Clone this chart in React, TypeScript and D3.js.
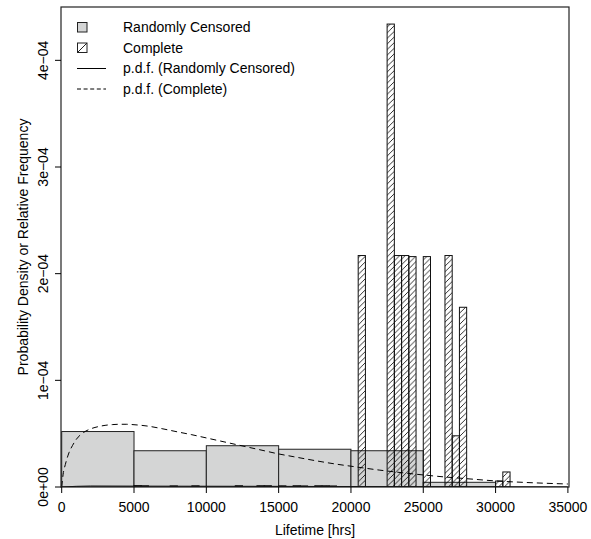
import React from "react";
import * as d3 from "d3";

// Randomly censored histogram (bin starts, width 5000)
const censStarts = [0, 5000, 10000, 15000, 20000, 25000];
const censDensity = [5.2e-5, 3.4e-5, 3.87e-5, 3.54e-5, 3.4e-5, 4.4e-6];
const censWidth = 5000;

// Complete histogram (bin starts, width 500)
const compStarts = [
  5000, 5500, 7500, 9000, 12000, 13500, 14000, 15000, 16000, 16500, 17500, 18000, 18500,
  20500, 22500, 23000, 23500, 24000, 25000, 26500, 27000, 27500, 30000, 30500,
];
const compDensity = [
  1.3e-6, 1.1e-6, 1.0e-6, 1.1e-6, 1.2e-6, 1.2e-6, 1.2e-6, 1.1e-6, 1.2e-6, 1.0e-6, 1.2e-6, 1.2e-6, 1.0e-6,
  2.17e-4, 4.34e-4, 2.17e-4, 2.17e-4, 2.16e-4, 2.16e-4, 2.17e-4, 4.8e-5, 1.685e-4, 5.6e-6, 1.41e-5,
];
const compWidth = 500;

// p.d.f. (Complete) - dashed
const pdfCompX = [0, 100, 250, 500, 750, 1000, 1500, 2000, 2500, 3000, 3500, 4000, 4500, 5000, 6000, 7000, 8000, 9000, 10000, 11000, 12000, 13000, 14000, 15000, 16000, 17000, 18000, 19000, 20000, 22000, 24000, 25000, 26000, 28000, 30000, 32000, 35000];
const pdfCompY = [0, 1.2e-5, 2.1e-5, 3.2e-5, 3.9e-5, 4.45e-5, 5.1e-5, 5.45e-5, 5.65e-5, 5.78e-5, 5.85e-5, 5.88e-5, 5.88e-5, 5.84e-5, 5.7e-5, 5.45e-5, 5.17e-5, 4.9e-5, 4.6e-5, 4.3e-5, 4.0e-5, 3.7e-5, 3.4e-5, 3.1e-5, 2.85e-5, 2.6e-5, 2.36e-5, 2.14e-5, 1.95e-5, 1.58e-5, 1.27e-5, 1.13e-5, 1.0e-5, 7.8e-6, 5.7e-6, 4.3e-6, 2.8e-6];

// p.d.f. (Randomly Censored) - solid, near zero
const pdfCensX = [0, 2000, 5000, 10000, 15000, 20000, 25000, 30000, 35000];
const pdfCensY = [0, 9e-7, 8e-7, 7e-7, 6e-7, 4e-7, 3e-7, 2e-7, 1e-7];

const xTicks = [0, 5000, 10000, 15000, 20000, 25000, 30000, 35000];
const yTicks = [0, 1e-4, 2e-4, 3e-4, 4e-4];
const yTickLabels = ["0e+00", "1e\u221204", "2e\u221204", "3e\u221204", "4e\u221204"];
const legendLabels = ["Randomly Censored", "Complete", "p.d.f. (Randomly Censored)", "p.d.f. (Complete)"];

const FONT = "'Liberation Sans', Arial, Helvetica, sans-serif";

export default function App() {
  const left = 61, right = 569, top = 7, bottom = 487;
  const x = d3.scaleLinear().domain([0, 35000]).range([61.7, 567.9]);
  const y = d3.scaleLinear().domain([0, 4.5e-4]).range([bottom, top]);
  const line = d3.line<[number, number]>().x((d) => x(d[0])).y((d) => y(d[1])).curve(d3.curveMonotoneX);
  const dashedData = pdfCompX.map((v, i) => [v, pdfCompY[i]] as [number, number]);
  const solidData = pdfCensX.map((v, i) => [v, pdfCensY[i]] as [number, number]);

  const legY0 = 32, legStep = 20.5;

  return (
    <svg width={591} height={539} style={{ position: "absolute", left: 0, top: 0, background: "#fff" }} fontFamily={FONT}>
      <defs>
        <pattern id="hatch" patternUnits="userSpaceOnUse" width={5.6} height={5.6}>
          <line x1={-1} y1={6.6} x2={6.6} y2={-1} stroke="#000" strokeWidth={0.8} />
        </pattern>
        <clipPath id="plotclip">
          <rect x={left} y={top} width={right - left} height={bottom - top} />
        </clipPath>
      </defs>
      <rect x={0} y={0} width={591} height={539} fill="#fff" />
      <g clipPath="url(#plotclip)">
        {censStarts.map((s, i) => (
          <rect key={"c" + i} x={x(s)} y={y(censDensity[i])} width={x(s + censWidth) - x(s)} height={y(0) - y(censDensity[i])}
            fill="#d4d5d5" stroke="#222" strokeWidth={1} />
        ))}
        {compStarts.map((s, i) => (
          <rect key={"h" + i} x={x(s)} y={y(compDensity[i])} width={x(s + compWidth) - x(s)} height={y(0) - y(compDensity[i])}
            fill="url(#hatch)" stroke="#111" strokeWidth={1} />
        ))}
        <path d={line(solidData) || ""} fill="none" stroke="#000" strokeWidth={1} />
        <path d={line(dashedData) || ""} fill="none" stroke="#000" strokeWidth={1} strokeDasharray="6,4" />
      </g>
      <rect x={left} y={top} width={right - left} height={bottom - top} fill="none" stroke="#222" strokeWidth={1.2} />
      {xTicks.map((t) => (
        <g key={"xt" + t}>
          <line x1={x(t)} x2={x(t)} y1={bottom} y2={bottom + 6} stroke="#000" />
          <text x={x(t)} y={511.5} textAnchor="middle" fontSize={14}>{t}</text>
        </g>
      ))}
      {yTicks.map((t, i) => (
        <g key={"yt" + i}>
          <line x1={left - 6} x2={left} y1={y(t)} y2={y(t)} stroke="#000" />
          <text transform={`translate(48,${y(t)}) rotate(-90)`} textAnchor="middle" fontSize={14}>{yTickLabels[i]}</text>
        </g>
      ))}
      <text x={(left + right) / 2} y={535} textAnchor="middle" fontSize={14}>Lifetime [hrs]</text>
      <text transform={`translate(28,${(top + bottom) / 2}) rotate(-90)`} textAnchor="middle" fontSize={14}>
        Probability Density or Relative Frequency
      </text>
      {/* legend */}
      <rect x={77.5} y={legY0 - 9.5} width={9.5} height={9.5} fill="#d4d5d5" stroke="#222" />
      <rect x={77.5} y={legY0 + legStep - 9.5} width={9.5} height={9.5} fill="none" stroke="#222" />
      <line x1={77.5} y1={legY0 + legStep} x2={87} y2={legY0 + legStep - 9.5} stroke="#222" />
      <line x1={77} x2={106} y1={legY0 + 2 * legStep - 4.5} y2={legY0 + 2 * legStep - 4.5} stroke="#000" />
      <line x1={77} x2={106} y1={legY0 + 3 * legStep - 4.5} y2={legY0 + 3 * legStep - 4.5} stroke="#000" strokeDasharray="4,2.6" />
      {legendLabels.map((l, i) => (
        <text key={l} x={123} y={legY0 + i * legStep} fontSize={14}>{l}</text>
      ))}
    </svg>
  );
}
